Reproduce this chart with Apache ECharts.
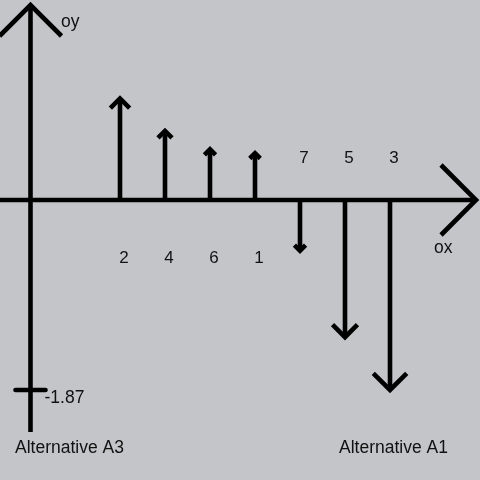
<!DOCTYPE html>
<html><head><meta charset="utf-8">
<script src="https://cdn.jsdelivr.net/npm/echarts@6/dist/echarts.min.js"></script>
<style>html,body{margin:0;padding:0;background:#c4c5c9}#c{width:480px;height:480px}</style>
</head><body><div id="c"></div>
<script>
// data
const categories = ['2', '4', '6', '1', '7', '5', '3'];
const values = [1.00, 0.68, 0.50, 0.46, -0.50, -1.35, -1.87];
const yTickValues = [-1.87];
const yTickLabels = ['-1.87'];
const axisNames = ['ox', 'oy'];
const alternatives = ['Alternative A3', 'Alternative A1'];

const PX = 190 / 1.87; // pixels per unit on y
const chart = echarts.init(document.getElementById('c'));
const FONT = '"Liberation Sans", Arial, sans-serif';
const C = '#000';
const LW = 4.6;

chart.setOption({
  backgroundColor: '#c4c5c9',
  animation: false,
  grid: { left: 30, right: 0, top: 0, bottom: 0 },
  xAxis: { type: 'value', min: -2, max: 8, show: false },
  yAxis: { type: 'value', min: -280 / PX, max: 200 / PX, show: false },
  series: [{
    type: 'custom',
    data: values.map((v, i) => [i, v, categories[i]]),
    renderItem: function (params, api) {
      const x = api.value(0), v = api.value(1);
      const base = api.coord([x, 0]);
      const tip = api.coord([x, v]);
      const len = Math.abs(tip[1] - base[1]);
      const h = 0.08 * len + 1.5;
      const dir = v > 0 ? 1 : -1;
      return {
        type: 'group',
        children: [
          { type: 'line', shape: { x1: base[0], y1: base[1], x2: tip[0], y2: tip[1] },
            style: { stroke: C, lineWidth: LW } },
          { type: 'polyline', shape: { points: [[tip[0] - h, tip[1] + dir * h], [tip[0], tip[1]], [tip[0] + h, tip[1] + dir * h]] },
            style: { stroke: C, lineWidth: LW, fill: null, lineJoin: 'miter' } },
          { type: 'text', style: { text: categories[params.dataIndex], x: base[0] + 4, y: base[1] + (v > 0 ? 58 : -42),
            align: 'center', verticalAlign: 'middle', font: '17px ' + FONT, fill: '#111' } }
        ]
      };
    }
  }]
});

const p = (x, y) => chart.convertToPixel({ gridIndex: 0 }, [x, y]);
const o = p(-2, 0);
const yAx = o[0] + 0.5, xAx = o[1];
const tick = p(-2, yTickValues[0]);
const lineStyle = { stroke: C, lineWidth: LW };
chart.setOption({
  graphic: [
    { type: 'line', shape: { x1: yAx, y1: 4, x2: yAx, y2: 432 }, style: lineStyle },
    { type: 'polyline', shape: { points: [[yAx - 31, 36], [yAx, 5], [yAx + 31, 36]] }, style: Object.assign({ fill: null, lineJoin: 'miter' }, lineStyle) },
    { type: 'line', shape: { x1: 0, y1: xAx, x2: 475, y2: xAx }, style: lineStyle },
    { type: 'polyline', shape: { points: [[441, xAx - 35], [476, xAx], [441, xAx + 35]] }, style: Object.assign({ fill: null, lineJoin: 'miter' }, lineStyle) },
    { type: 'line', shape: { x1: yAx - 15, y1: tick[1], x2: yAx + 15, y2: tick[1] }, style: Object.assign({ lineCap: 'round' }, lineStyle) },
    { type: 'text', style: { text: yTickLabels[0], x: yAx + 14, y: tick[1] + 8, verticalAlign: 'middle', font: '17.5px ' + FONT, fill: '#111' } },
    { type: 'text', style: { text: axisNames[1], x: 61, y: 22, verticalAlign: 'middle', font: '17.5px ' + FONT, fill: '#111' } },
    { type: 'text', style: { text: axisNames[0], x: 434, y: 248, verticalAlign: 'middle', font: '17.5px ' + FONT, fill: '#111' } },
    { type: 'text', style: { text: alternatives[0], x: 15, y: 448, verticalAlign: 'middle', font: '17.5px ' + FONT, fill: '#111' } },
    { type: 'text', style: { text: alternatives[1], x: 339, y: 448, verticalAlign: 'middle', font: '17.5px ' + FONT, fill: '#111' } }
  ]
});
</script></body></html>
